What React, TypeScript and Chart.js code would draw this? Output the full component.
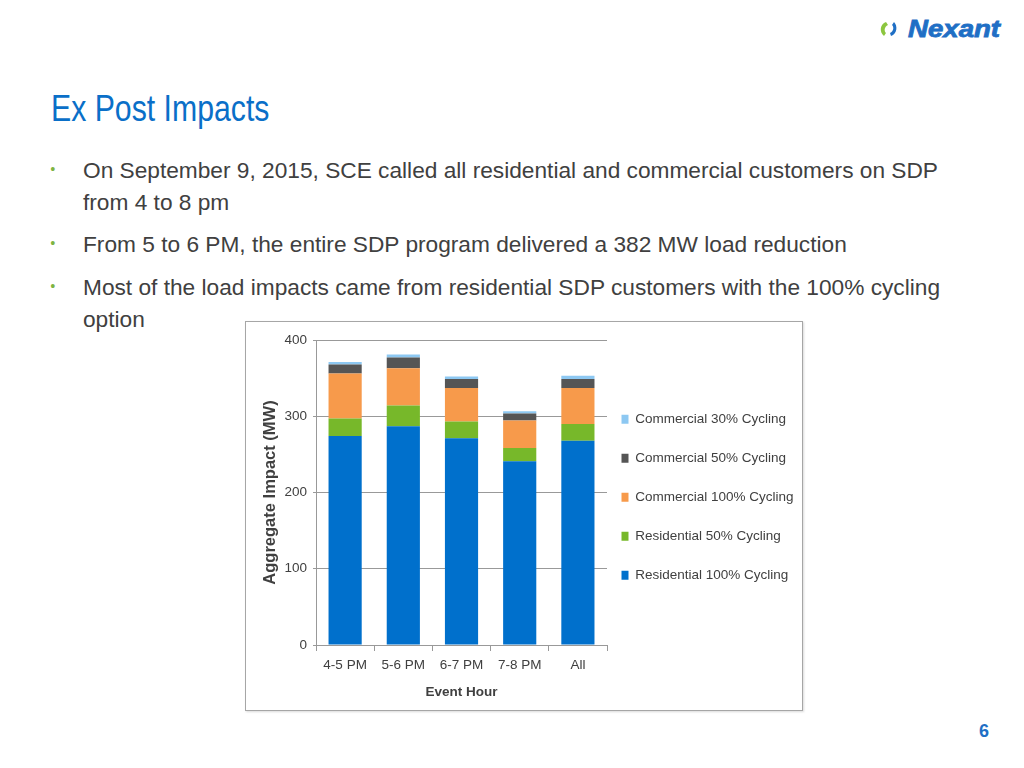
import React, { useEffect, useRef } from "react";
import { Chart, registerables } from "chart.js";

Chart.register(...registerables);

const categories = ["4-5 PM", "5-6 PM", "6-7 PM", "7-8 PM", "All"];
const residential100 = [274, 287, 271, 241, 268];
const residential50 = [23, 27, 22, 17.5, 22];
const commercial100 = [59, 49, 44, 36, 47];
const commercial50 = [12, 14, 12, 9, 12];
const commercial30 = [3, 4, 3, 3, 4];
const yTicks = [0, 100, 200, 300, 400];

const SANS = "'Liberation Sans', Arial, sans-serif";

// nudge the legend's left edge so the swatches sit closer to the plot, as in the original
const shiftLegend = {
  id: "shiftLegend",
  afterLayout(chart: any) {
    const lg = chart.legend;
    if (lg) {
      lg.left -= 11;
    }
  },
};

function ChartBox() {
  const ref = useRef<HTMLCanvasElement | null>(null);
  useEffect(() => {
    if (!ref.current) return;
    const chart = new Chart(ref.current, {
      type: "bar",
      data: {
        labels: categories,
        datasets: [
          { label: "Residential 100% Cycling", data: residential100, backgroundColor: "#0070CC" },
          { label: "Residential 50% Cycling", data: residential50, backgroundColor: "#77B82A" },
          { label: "Commercial 100% Cycling", data: commercial100, backgroundColor: "#F79A4B" },
          { label: "Commercial 50% Cycling", data: commercial50, backgroundColor: "#555555" },
          { label: "Commercial 30% Cycling", data: commercial30, backgroundColor: "#8DC8F2" },
        ],
      },
      plugins: [shiftLegend],
      options: {
        animation: false,
        responsive: false,
        maintainAspectRatio: false,
        datasets: { bar: { barPercentage: 0.57, categoryPercentage: 1 } },
        layout: { padding: { top: 18, bottom: 10, left: 16, right: 0 } },
        plugins: {
          tooltip: { enabled: false },
          legend: {
            position: "right",
            align: "start",
            reverse: true,
            maxWidth: 195,
            title: { display: true, text: " ", font: { size: 10 }, padding: { top: 17.5, bottom: 17.5 } },
            labels: {
              boxWidth: 7,
              boxHeight: 9,
              padding: 25.5,
              color: "#404040",
              font: { family: SANS, size: 13.5 },
            },
          },
        },
        scales: {
          x: {
            stacked: true,
            grid: { drawOnChartArea: false, drawTicks: true, tickLength: 6, color: "#999", offset: true },
            border: { color: "#999" },
            ticks: { color: "#404040", font: { family: SANS, size: 13.5 }, padding: 6 },
            title: { display: true, text: "Event Hour", color: "#404040", font: { family: SANS, size: 13.5, weight: "bold" }, padding: { top: 4.6, bottom: 0 } },
          },
          y: {
            stacked: true,
            min: 0,
            max: 400,
            afterBuildTicks: (axis: any) => {
              axis.ticks = yTicks.map((v) => ({ value: v }));
            },
            grid: { color: "#999", tickLength: 3 },
            border: { color: "#999" },
            ticks: { color: "#404040", font: { family: SANS, size: 13.5 }, padding: 6 },
            title: { display: true, text: "Aggregate Impact (MW)", color: "#404040", font: { family: SANS, size: 16.5, weight: "bold", lineHeight: 1 }, padding: { top: 0, bottom: 0 } },
          },
        },
      },
    });
    return () => chart.destroy();
  }, []);
  return <canvas ref={ref} width={556} height={388} style={{ display: "block" }} />;
}

function Logo() {
  return (
    <div style={{ position: "absolute", left: 879, top: 17, height: 24, display: "flex", alignItems: "center" }}>
      <svg width="20" height="16" viewBox="0 0 20 16">
        <path d="M7 1 C1 3 0 11 5 15 L7 12 C5 10 5 6 9 4 Z" fill="#8CC63F" />
        <path d="M12 15 C18 13 19 5 15 1 L13 4 C15 6 15 10 11 12 Z" fill="#1F6FC5" />
      </svg>
      <span style={{ fontFamily: SANS, fontWeight: "bold", fontStyle: "italic", fontSize: 23, lineHeight: "24px", color: "#1F6FC5", WebkitTextStroke: "0.8px #1F6FC5", marginLeft: 9, display: "inline-block", transform: "scaleX(1.2)", transformOrigin: "left center" }}>
        Nexant
      </span>
    </div>
  );
}

export default function App() {
  const bullet = (top: number, lines: string[]) => (
    <div style={{ position: "absolute", left: 0, top, width: 1024 }}>
      <span style={{ position: "absolute", left: 50, top: 0, color: "#7DB442", fontSize: 16, lineHeight: "32px" }}>•</span>
      {lines.map((l, i) => (
        <div key={i} style={{ position: "absolute", left: 83, top: i * 32, fontFamily: SANS, fontSize: 22.7, lineHeight: "32px", color: "#404040", whiteSpace: "nowrap" }}>
          {l}
        </div>
      ))}
    </div>
  );
  return (
    <div style={{ position: "fixed", left: 0, top: 0, width: 1024, height: 768, background: "#fff", overflow: "hidden" }}>
      <Logo />
      <div style={{ position: "absolute", left: 51, top: 87, fontFamily: SANS, fontSize: 36, color: "#0A6FC8", lineHeight: "44px", whiteSpace: "nowrap", transform: "scaleX(0.84)", transformOrigin: "left center" }}>
        Ex Post Impacts
      </div>
      {bullet(154, ["On September 9, 2015, SCE called all residential and commercial customers on SDP", "from 4 to 8 pm"])}
      {bullet(228, ["From 5 to 6 PM, the entire SDP program delivered a 382 MW load reduction"])}
      {bullet(271, ["Most of the load impacts came from residential SDP customers with the 100% cycling", "option"])}
      <div style={{ position: "absolute", left: 245, top: 321, width: 556, height: 388, border: "1px solid #A6A6A6", boxShadow: "1px 1px 2px rgba(0,0,0,0.15)", background: "#fff" }}>
        <ChartBox />
      </div>
      <div style={{ position: "absolute", left: 979, top: 721, fontFamily: SANS, fontWeight: "bold", fontSize: 18, color: "#1F6FC5" }}>6</div>
    </div>
  );
}
